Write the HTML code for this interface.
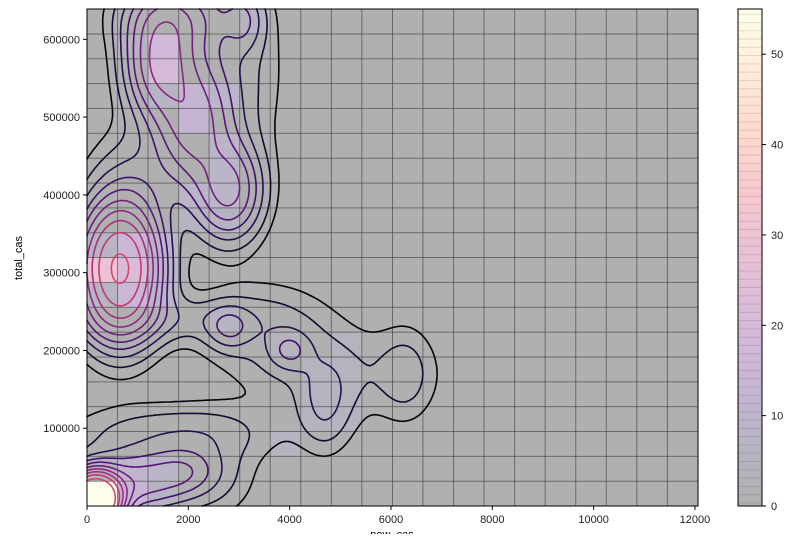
<!DOCTYPE html>
<html><head><meta charset="utf-8"><style>
body{margin:0;background:#fff;width:809px;height:534px;overflow:hidden;font-family:"Liberation Sans",sans-serif}
</style></head><body>
<svg id="chart" width="809" height="534" xmlns="http://www.w3.org/2000/svg" font-family="Liberation Sans, sans-serif" font-size="11">
<g id="cells"></g>
<g id="contours"></g>
<rect x="87" y="9" width="611" height="497" fill="none" stroke="#000" stroke-width="1"/>
<g id="axes"></g>
<text x="22" y="258" transform="rotate(-90 22 258)" text-anchor="middle">total_cas</text>
<text x="392" y="538" text-anchor="middle">new_cas</text>
<g id="cbar"></g>
</svg>
<script>
const xTicks=[0,2000,4000,6000,8000,10000,12000];
const yTicks=[100000,200000,300000,400000,500000,600000];
const cbTicks=[0,10,20,30,40,50];
const cellCols=[0,1,1,2,0,2,6,7,7,7,8,8,8,8,6,4,0,1,1,1,2,2,2,0,0,3,4,3,4,4,4,2,2,3,3,4,5,2,1];
const cellRows=[0,0,1,1,1,0,2,3,4,5,3,4,5,6,6,7,9,9,8,10,8,9,10,8,10,11,11,12,12,13,14,17,18,15,16,16,19,16,18];
const cellCounts=[55,12,10,8,4,5,5,4,4,4,4,4,4,4,4,5,30,22,15,15,8,8,8,6,6,5,5,8,8,8,8,20,17,12,12,8,5,6,4];
const compX=[150,900,1900,1500,2500, 650, 1450,2100,2800,1700,3100,2500,1000, 2800,4000,4700,6300,3500,5000,1500,2000];
const compY=[8000,30000,45000,90000,40000, 305000, 570000,490000,405000,630000,625000,560000,420000, 230000,200000,130000,170000,230000,170000,240000,100000];
const compSX=[300,700,450,1200,600, 480, 430,470,420,650,250,800,600, 280,280,350,350,900,1200,1300,1500];
const compSY=[20000,25000,20000,25000,40000, 52000, 45000,50000,40000,30000,25000,90000,45000, 18000,17000,40000,40000,40000,40000,20000,25000];
const compW=[1.0,0.12,0.06,0.025,0.025, 0.5, 0.19,0.14,0.15,0.09,0.05,0.045,0.035, 0.05,0.05,0.04,0.025,0.03,0.025,0.03,0.015];
const levelFracs=[0.012,0.025,0.045,0.07,0.1,0.14,0.19,0.25,0.33,0.45];

const X0=87,X1=698,Y0=506,Y1=9,XMAX=12060,YMAX=639000,CMAX=55;
const px=v=>X0+v*(X1-X0)/XMAX, py=v=>Y0-v*(Y0-Y1)/YMAX;
const NS="http://www.w3.org/2000/svg";
const mag=[[0,0,4],[28,16,68],[79,18,123],[129,37,129],[181,54,122],[229,80,100],[251,135,97],[254,194,135],[252,253,191]];
function magma(t){t=Math.max(0,Math.min(1,t));const f=t*(mag.length-1),i=Math.min(mag.length-2,Math.floor(f)),r=f-i;return mag[i].map((c,k)=>Math.round(c+(mag[i+1][k]-c)*r));}
function blend(c,a){return 'rgb('+c.map(v=>Math.round(v*a+255*(1-a))).join(',')+')';}
function mk(tag,attrs,parent){const e=document.createElementNS(NS,tag);for(const k in attrs)e.setAttribute(k,attrs[k]);parent.appendChild(e);return e;}
const NB=20,bw=XMAX/NB,bh=YMAX/NB;
const grid=[];for(let r=0;r<NB;r++){grid.push(new Array(NB).fill(0));}
cellCols.forEach((c,i)=>{grid[cellRows[i]][cellCols[i]]=cellCounts[i];});
const cellsG=document.getElementById('cells');
for(let r=0;r<NB;r++)for(let c=0;c<NB;c++){
 const x=px(c*bw),y=py((r+1)*bh),w=px((c+1)*bw)-x,h=py(r*bh)-y;
 const el=mk('rect',{x:x,y:y,width:w,height:h,fill:blend(magma(grid[r][c]/CMAX),0.31),stroke:'rgba(0,0,0,0.3)','stroke-width':1},cellsG);
 
 
}
function dens(x,y){let s=0;for(let i=0;i<compX.length;i++){const dx=(x-compX[i])/compSX[i],dy=(y-compY[i])/compSY[i];s+=compW[i]*Math.exp(-0.5*(dx*dx+dy*dy));}return s;}
const GX=240,GY=200,G=[];let mx=0;
for(let j=0;j<=GY;j++){const row=[];for(let i=0;i<=GX;i++){const v=dens(i*XMAX/GX,j*YMAX/GY);row.push(v);if(v>mx)mx=v;}G.push(row);}
const contG=document.getElementById('contours');
levelFracs.forEach((f,li)=>{
 const L=f*mx;let d='';
 const gx=i=>px(i*XMAX/GX),gy=j=>py(j*YMAX/GY);
 for(let j=0;j<GY;j++)for(let i=0;i<GX;i++){
  const a=G[j][i],b=G[j][i+1],c=G[j+1][i+1],e=G[j+1][i];
  const pts=[];
  const edge=(v1,v2,x1,y1,x2,y2)=>{if((v1>=L)!==(v2>=L)){const t=(L-v1)/(v2-v1);pts.push([x1+(x2-x1)*t,y1+(y2-y1)*t]);}};
  edge(a,b,gx(i),gy(j),gx(i+1),gy(j));
  edge(b,c,gx(i+1),gy(j),gx(i+1),gy(j+1));
  edge(c,e,gx(i+1),gy(j+1),gx(i),gy(j+1));
  edge(e,a,gx(i),gy(j+1),gx(i),gy(j));
  for(let k=0;k+1<pts.length;k+=2)d+='M'+pts[k][0].toFixed(1)+' '+pts[k][1].toFixed(1)+'L'+pts[k+1][0].toFixed(1)+' '+pts[k+1][1].toFixed(1);
 }
 const col=magma(0.02+0.063*li);
 const p=mk('path',{d:d,fill:'none',stroke:'rgb('+col.join(',')+')','stroke-width':1.6,'stroke-linecap':'round'},contG);
 
 
});
const ax=document.getElementById('axes');
xTicks.forEach(t=>{const x=px(t);mk('line',{x1:x,y1:506,x2:x,y2:510,stroke:'#000'},ax);
 const tx=mk('text',{x:x,y:523,'text-anchor':'middle',fill:'#222'},ax);tx.textContent=t;
 
 });
yTicks.forEach(t=>{const y=py(t);mk('line',{x1:83,y1:y,x2:87,y2:y,stroke:'#000'},ax);
 const tx=mk('text',{x:80,y:y+4,'text-anchor':'end',fill:'#222'},ax);tx.textContent=t;
 
 });
const cb=document.getElementById('cbar');const CBX=738,CBW=24,CBT=9,CBB=506;
const N=120;
for(let k=0;k<N;k++){const v0=k/N*CMAX;const y=CBB-(k+1)*(CBB-CBT)/N;
 mk('rect',{x:CBX,y:y,width:CBW,height:(CBB-CBT)/N+0.5,fill:blend(magma(v0/CMAX),0.31)},cb);
 if(k%2==0)mk('line',{x1:CBX,x2:CBX+CBW,y1:y+1,y2:y+1,stroke:'rgba(0,0,0,0.12)'},cb);}
mk('rect',{x:CBX,y:CBT,width:CBW,height:CBB-CBT,fill:'none',stroke:'#000'},cb);
cbTicks.forEach(t=>{const y=CBB-t/CMAX*(CBB-CBT);mk('line',{x1:CBX+CBW,x2:CBX+CBW+4,y1:y,y2:y,stroke:'#000'},cb);
 const tx=mk('text',{x:771,y:y+4,fill:'#222'},cb);tx.textContent=t;
 
 });
</script>
</body></html>
